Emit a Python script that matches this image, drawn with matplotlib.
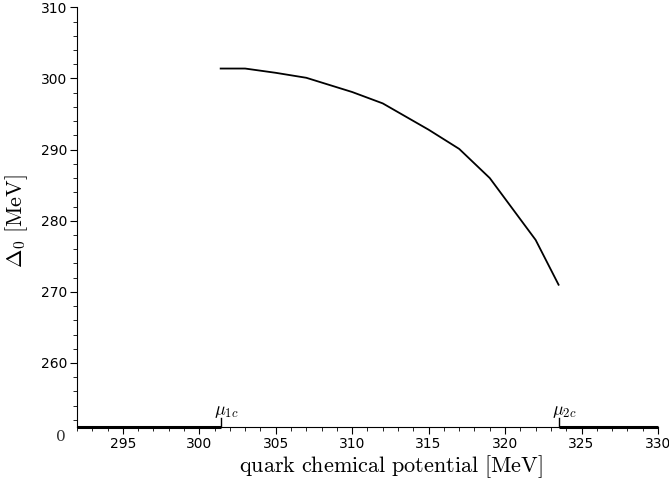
import matplotlib
matplotlib.use("Agg")
from matplotlib import pyplot as plt
from matplotlib.ticker import MultipleLocator

plt.rcParams['mathtext.fontset'] = 'cm'

# gap vs quark chemical potential
mu = [301.4, 303.0, 305.0, 307.0, 310.0, 312.0, 315.0, 317.0, 319.0, 322.0, 323.5]
delta0 = [301.4, 301.4, 300.8, 300.1, 298.1, 296.5, 292.8, 290.1, 286.0, 277.3, 271.0]

mu_1c = 301.4
mu_2c = 323.5
x_min, x_max = 292, 330
y_min, y_max = 251, 310

fig = plt.figure(figsize=(6.69, 4.79), dpi=100)
ax = fig.add_axes([0.115, 0.1086, 0.8685, 0.876])

ax.plot(mu, delta0, color='black', linewidth=1.3)

# zero-gap branches drawn on the (broken) axis line
ax.plot([x_min, mu_1c], [y_min, y_min], color='black', linewidth=2.2, clip_on=False, solid_capstyle='butt')
ax.plot([mu_2c, x_max], [y_min, y_min], color='black', linewidth=2.2, clip_on=False, solid_capstyle='butt')
for m, lab in [(mu_1c, r'$\mu_{1c}$'), (mu_2c, r'$\mu_{2c}$')]:
    ax.plot([m, m], [y_min, y_min + 1.3], color='black', linewidth=1.0)
    ax.text(m + 0.4, y_min + 1.0, lab, fontsize=13, ha='center', va='bottom')

ax.set_xlim(x_min, x_max)
ax.set_ylim(y_min, y_max)
ax.spines['top'].set_visible(False)
ax.spines['right'].set_visible(False)
ax.spines['left'].set_linewidth(0.8)
ax.spines['bottom'].set_linewidth(0.8)

ax.xaxis.set_major_locator(MultipleLocator(5))
ax.xaxis.set_minor_locator(MultipleLocator(1))
ax.yaxis.set_major_locator(MultipleLocator(10))
ax.yaxis.set_minor_locator(MultipleLocator(2))
ax.set_xticks([295, 300, 305, 310, 315, 320, 325, 330])
ax.set_yticks([260, 270, 280, 290, 300, 310])
ax.tick_params(which='major', length=5, width=0.8, labelsize=10, pad=2)
ax.tick_params(which='minor', length=3, width=0.6)

ax.text(-0.019, -0.007, '0', transform=ax.transAxes, fontsize=11, family='DejaVu Serif',
        ha='right', va='top', color='#333333')

ax.set_xlabel(r'$\mathrm{quark\ chemical\ potential\ [MeV]}$', fontsize=16, labelpad=2)
ax.xaxis.set_label_coords(0.54, -0.062)
ax.set_ylabel(r'$\Delta_0\ \mathrm{[MeV]}$', fontsize=16)
ax.yaxis.set_label_coords(-0.08, 0.49)

fig.savefig('out.png', dpi=100)
